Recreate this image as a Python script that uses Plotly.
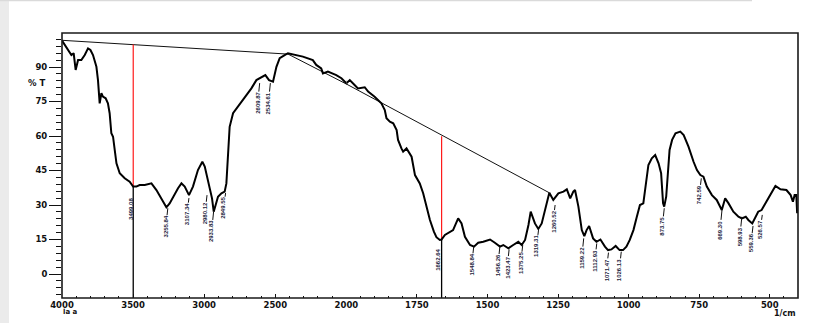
import plotly.graph_objects as go

# ---- IR transmittance spectrum (wavenumber in 1/cm, transmittance in %T) ----
wavenumber = [
    4000, 3969, 3934, 3918, 3904, 3887, 3864, 3840, 3817, 3800, 3782, 3758, 3747, 3735,
    3723, 3712, 3693, 3677, 3665, 3653, 3641, 3629, 3617, 3594, 3559, 3524, 3500, 3477,
    3454, 3418, 3371, 3336, 3301, 3266, 3243, 3219, 3184, 3160, 3137, 3107, 3079, 3044,
    3013, 2996, 2973, 2956, 2945, 2933, 2919, 2903, 2879, 2856, 2844, 2833, 2821, 2797,
    2762, 2727, 2692, 2668, 2633, 2610, 2587, 2570, 2544, 2516, 2492, 2469, 2434, 2411,
    2306, 2236, 2212, 2177, 2165, 2130, 2071, 2035, 2000, 1988, 1971, 1959, 1935, 1923,
    1900, 1888, 1876, 1864, 1858, 1846, 1834, 1822, 1817, 1805, 1799, 1787, 1775, 1769,
    1757, 1740, 1728, 1716, 1704, 1690, 1681, 1669, 1663, 1651, 1633, 1622, 1604, 1592,
    1580, 1562, 1548, 1533, 1515, 1491, 1474, 1456, 1444, 1426, 1409, 1391, 1379, 1367,
    1355, 1347, 1332, 1320, 1308, 1296, 1281, 1267, 1249, 1231, 1219, 1207, 1196, 1190,
    1178, 1166, 1157, 1149, 1140, 1126, 1114, 1100, 1084, 1073, 1061, 1046, 1032, 1020,
    1008, 996, 983, 971, 960, 948, 938, 930, 918, 906, 894, 885, 878, 874,
    867, 862, 855, 846, 834, 817, 805, 788, 776, 770, 758, 746, 735, 723,
    705, 688, 670, 658, 646, 629, 611, 599, 585, 576, 562, 549, 541, 529,
    512, 494, 480, 462, 441, 426, 418, 412, 406, 403,
]
transmittance = [
    101.5, 98.8, 95.2, 96.0, 88.7, 93.0, 93.0, 95.2, 98.1, 97.4, 95.2, 90.1, 84.3, 74.2,
    78.6, 77.1, 76.4, 74.2, 69.9, 61.2, 59.7, 53.9, 48.1, 43.8, 41.6, 40.1, 38.0, 38.0,
    38.7, 38.7, 39.4, 36.5, 32.9, 29.0, 30.7, 33.6, 37.3, 39.4, 38.0, 34.3, 38.0, 45.2,
    48.8, 46.7, 40.9, 36.5, 32.9, 27.1, 30.0, 33.6, 35.1, 35.8, 39.4, 49.6, 64.0, 69.9,
    72.8, 75.7, 78.6, 80.7, 84.3, 85.1, 85.8, 86.5, 84.3, 83.6, 90.1, 93.8, 95.2, 96.0,
    94.5, 93.0, 90.9, 89.4, 87.2, 88.0, 86.5, 85.1, 82.9, 84.3, 82.2, 80.7, 81.2, 79.3,
    77.1, 75.7, 74.2, 71.3, 67.7, 66.2, 65.5, 62.6, 58.3, 54.6, 53.2, 54.6, 52.5, 51.0,
    43.0, 39.4, 35.1, 29.3, 23.5, 18.4, 16.0, 14.8, 15.0, 17.0, 18.4, 19.1, 24.2, 22.0,
    16.2, 12.6, 11.9, 13.6, 14.0, 15.0, 13.6, 11.9, 12.6, 11.2, 12.6, 14.0, 12.6, 14.8,
    21.3, 27.1, 22.0, 19.6, 22.0, 27.8, 35.3, 32.2, 35.1, 35.8, 36.8, 32.9, 35.8, 36.5,
    29.3, 19.1, 16.5, 19.1, 20.9, 15.5, 14.0, 15.0, 11.9, 10.4, 10.7, 12.2, 10.4, 10.4,
    11.9, 14.8, 19.1, 24.9, 30.0, 30.7, 39.4, 47.4, 50.3, 51.7, 48.1, 43.8, 30.7, 29.3,
    33.6, 42.3, 53.9, 58.3, 61.2, 61.9, 60.4, 55.4, 50.3, 48.8, 45.2, 43.0, 42.3, 38.0,
    34.3, 32.2, 27.8, 32.9, 30.7, 27.1, 24.9, 24.2, 24.9, 23.5, 22.0, 24.9, 27.1, 27.8,
    31.4, 35.1, 38.3, 36.8, 36.5, 34.3, 31.4, 34.3, 34.3, 26.4,
]

# baseline segments used for the band measurements
baseline_wn = [4000, 2410, 2000, 1281]
baseline_t = [101.6, 95.6, 82.6, 35.3]

# measured bands: position, baseline level, curve level, label top
marker_wn = [3499.08, 1662.64]
marker_base = [99.8, 59.9]
marker_curve = [38.0, 15.0]
marker_label_t = [33.6, 11.2]

# labelled peaks: position, tick top, label top
peak_wn = [3255.84, 3107.34, 2980.12, 2933.83, 2849.55, 2609.87, 2534.61,
           1548.84, 1456.26, 1423.47, 1375.25, 1319.31, 1260.52, 1159.22,
           1112.93, 1071.47, 1026.13, 873.75, 742.59, 669.30, 598.93, 559.36, 526.57]
peak_tick_t = [28.6, 33.0, 34.3, 27.1, 35.2, 83.0, 83.0,
               11.9, 11.9, 10.7, 12.6, 19.1, 30.0, 15.5,
               13.3, 9.3, 9.7, 28.6, 41.6, 27.8, 24.9, 20.9, 25.7]
peak_label_t = [25.6, 31.0, 31.4, 23.5, 33.6, 79.3, 79.3,
                9.0, 8.7, 7.8, 9.7, 17.0, 27.8, 11.9,
                10.7, 6.8, 6.8, 25.7, 39.4, 24.2, 21.3, 18.4, 24.2]

y_ticks = [0, 15, 30, 45, 60, 75, 90]
x_ticks_high = [4000, 3500, 3000, 2500]
x_ticks_low = [2000, 1750, 1500, 1250, 1000, 750, 500]

Y_RANGE = [-10.43, 104.78]
BREAK = 0.3864          # 4000-2000 drawn at half scale of 2000-400
PX_PER_T = 2.3          # vertical pixels per %T unit (265 px plot height)

fig = go.Figure()

for xa in ("x", "x2"):
    fig.add_trace(go.Scatter(x=baseline_wn, y=baseline_t, mode="lines", xaxis=xa, yaxis="y",
                             line=dict(color="#111111", width=1), hoverinfo="skip"))
    for wn, top, cur in zip(marker_wn, marker_base, marker_curve):
        fig.add_trace(go.Scatter(x=[wn, wn], y=[top, cur], mode="lines", xaxis=xa, yaxis="y",
                                 line=dict(color="#ff1a1a", width=1.2), hoverinfo="skip"))
        fig.add_trace(go.Scatter(x=[wn, wn], y=[cur, Y_RANGE[0]], mode="lines", xaxis=xa, yaxis="y",
                                 line=dict(color="#000000", width=1.3), hoverinfo="skip"))
    fig.add_trace(go.Scatter(x=wavenumber, y=transmittance, mode="lines", xaxis=xa, yaxis="y",
                             line=dict(color="#000000", width=2), hoverinfo="skip"))

label_font = dict(family="Liberation Sans", size=6, color="#1c1c3c", weight="bold")
annotations = []
for wn, tick_t, lab_t in zip(peak_wn, peak_tick_t, peak_label_t):
    annotations.append(dict(
        x=wn, y=tick_t, xref="x" if wn >= 2000 else "x2", yref="y",
        text=f"{wn:.2f}", textangle=-90, font=label_font,
        showarrow=True, arrowhead=0, arrowwidth=1, arrowcolor="#111111",
        ax=-2, ay=(tick_t - lab_t) * PX_PER_T + 11.5, borderpad=0))
for wn, lab_t in zip(marker_wn, marker_label_t):
    annotations.append(dict(
        x=wn, y=lab_t, xref="x" if wn >= 2000 else "x2", yref="y",
        text=f"{wn:.2f}", textangle=-90, font=label_font, showarrow=False,
        xanchor="center", yanchor="top", xshift=-3, borderpad=0))

axis_font = dict(family="DejaVu Sans", size=8.5, color="#111111", weight="bold")
annotations += [
    dict(x=-0.02, y=0.811, xref="paper", yref="paper", text="% T", showarrow=False,
         xanchor="right", yanchor="middle", font=axis_font),
    dict(x=0.9986, y=-0.058, xref="paper", yref="paper", text="1/cm", showarrow=False,
         xanchor="right", yanchor="middle", borderpad=0,
         font=dict(family="DejaVu Sans", size=8, color="#111111", weight="bold")),
    dict(x=0.0, y=-0.054, xref="paper", yref="paper", text="la a", showarrow=False,
         xanchor="left", yanchor="middle", borderpad=0,
         font=dict(family="DejaVu Sans", size=7, color="#111111", weight="bold")),
]

common_x = dict(showgrid=False, zeroline=False, showline=False, ticks="inside", ticklen=4,
                tickwidth=1, tickcolor="#111111", tickfont=axis_font, anchor="y")
fig.update_layout(
    width=815, height=323, margin=dict(l=62, r=17, t=33, b=25),
    paper_bgcolor="white", plot_bgcolor="white", showlegend=False,
    xaxis=dict(domain=[0, BREAK], range=[4000, 2000], tickmode="array", tickvals=x_ticks_high,
               minor=dict(tickmode="linear", tick0=0, dtick=100, ticklen=2, ticks="inside",
                          tickcolor="#111111"), **common_x),
    xaxis2=dict(domain=[BREAK, 1], range=[2000, 400], tickmode="array", tickvals=x_ticks_low,
                minor=dict(tickmode="linear", tick0=0, dtick=50, ticklen=2, ticks="inside",
                           tickcolor="#111111"), **common_x),
    yaxis=dict(range=Y_RANGE, tickmode="array", tickvals=y_ticks, showgrid=False, zeroline=False,
               showline=False, ticks="outside", ticklen=12, tickwidth=1.2, tickcolor="#111111",
               tickfont=axis_font, anchor="x",
               minor=dict(tickmode="linear", tick0=0, dtick=3, ticklen=5, ticks="outside",
                          tickcolor="#111111")),
    annotations=annotations,
    shapes=[
        dict(type="rect", xref="paper", yref="paper", x0=0, x1=1, y0=0, y1=1,
             line=dict(color="#1a1a1a", width=1.6), layer="above"),
        dict(type="rect", xref="paper", yref="paper", x0=-62 / 736, x1=-53 / 736,
             y0=-25 / 265, y1=298 / 265, fillcolor="#ebebeb", line=dict(width=0), layer="below"),
        dict(type="line", xref="paper", yref="paper", x0=-62 / 736, x1=690 / 736,
             y0=297.5 / 265, y1=297.5 / 265, line=dict(color="#dadada", width=1.5), layer="below"),
    ],
)

fig.write_html("out.html")
